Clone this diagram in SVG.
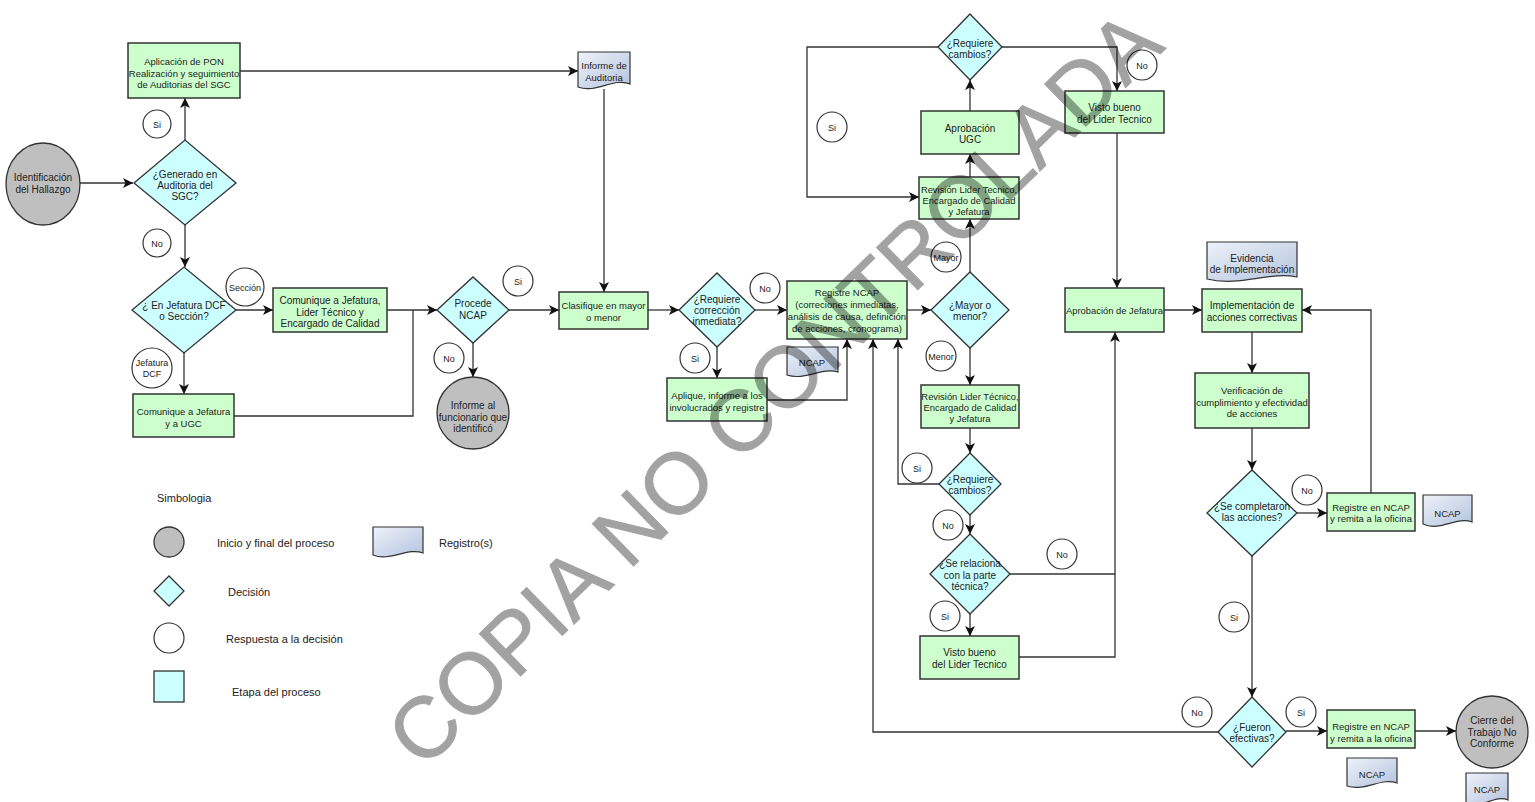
<svg xmlns="http://www.w3.org/2000/svg" width="1535" height="802" viewBox="0 0 1535 802">
<style>
.box{fill:#ccffcc;stroke:#333;stroke-width:1.5}
.dia{fill:#ccffff;stroke:#333;stroke-width:1.3}
.term{fill:#bfbfbf;stroke:#333;stroke-width:1.3}
.ans{fill:#fff;stroke:#333;stroke-width:1.2}
.doc{fill:url(#docg);stroke:#333;stroke-width:1.2}
text{font-family:"Liberation Sans",Arial,sans-serif;fill:#222}
.t{font-size:10px;text-anchor:middle}
.s{font-size:9.5px;text-anchor:middle}
.n{font-size:9.4px;text-anchor:middle}
.a{font-size:9px;text-anchor:middle}
.lg{font-size:11px}
#conn path{fill:none;stroke:#333;stroke-width:1.3}
.arr{marker-end:url(#ah)}
.wm{font-size:86px;fill:#000;stroke:#000;stroke-width:1;opacity:0.36}
</style>
<defs>
<marker id="ah" viewBox="0 0 10 10" refX="10" refY="5" markerWidth="11" markerHeight="10" markerUnits="userSpaceOnUse" orient="auto">
<path d="M0,0 L10,5 L0,10 L2.5,5 Z" fill="#111"/>
</marker>
<linearGradient id="docg" x1="0" y1="0" x2="1" y2="1">
<stop offset="0" stop-color="#eef2fa"/>
<stop offset="1" stop-color="#b3c3de"/>
</linearGradient>
</defs>
<rect width="1535" height="802" fill="#fff"/>

<g id="conn">
<path class="arr" d="M80,183 H133"/>
<path class="arr" d="M185,140 V98"/>
<path class="arr" d="M240,71 H578"/>
<path class="arr" d="M185,225 V267"/>
<path class="arr" d="M236,310 H273"/>
<path class="arr" d="M184,353 V394"/>
<path class="arr" d="M387,310 H437"/>
<path d="M234,416 H413 V310"/>
<path class="arr" d="M509,310 H559"/>
<path class="arr" d="M473,343 V377"/>
<path class="arr" d="M604,89 V292"/>
<path class="arr" d="M648,310 H679"/>
<path class="arr" d="M755,310 H787"/>
<path class="arr" d="M717,347 V378"/>
<path class="arr" d="M767,400 H847 V339"/>
<path class="arr" d="M907,310 H931"/>
<path class="arr" d="M970,272 V219"/>
<path class="arr" d="M970,177 V154"/>
<path class="arr" d="M970,111 V80"/>
<path class="arr" d="M938,47 H807 V197 H919"/>
<path class="arr" d="M1002,47 H1117 V91"/>
<path class="arr" d="M1117,133 V288"/>
<path class="arr" d="M970,348 V385"/>
<path class="arr" d="M970,428 V453"/>
<path class="arr" d="M939,484 H898 V339"/>
<path class="arr" d="M970,515 V534"/>
<path d="M1010,574 H1115"/>
<path class="arr" d="M970,614 V636"/>
<path class="arr" d="M1019,657 H1115 V332"/>
<path class="arr" d="M1164,310 H1202"/>
<path class="arr" d="M1252,332 V373"/>
<path class="arr" d="M1252,428 V470"/>
<path class="arr" d="M1297,513 H1327"/>
<path class="arr" d="M1371,493 V310 H1302"/>
<path class="arr" d="M1252,556 V697"/>
<path class="arr" d="M1286,731 H1327"/>
<path class="arr" d="M1415,731 H1456"/>
<path class="arr" d="M1218,732 H873 V339"/>
</g>

<g id="n-identificacion"><ellipse class="term" cx="43" cy="184" rx="37" ry="41"/><text class="t" x="43" y="180.5">Identificación</text><text class="t" x="43" y="192.5">del Hallazgo</text></g>
<g id="n-generado"><polygon class="dia" points="134,183 185,140 236,183 185,225"/><text class="t" x="185" y="177.5">¿Generado en</text><text class="t" x="185" y="188.5">Auditoria del</text><text class="t" x="185" y="199.5">SGC?</text></g>
<g id="n-aplicacion"><rect class="box" x="128" y="43" width="112" height="55"/><text class="s" x="184" y="64.5">Aplicación de PON</text><text class="s" x="184" y="76.5">Realización y seguimiento</text><text class="s" x="184" y="87.5">de Auditorias del SGC</text></g>
<g id="r-si1"><circle class="ans" cx="157" cy="124" r="14"/><text class="a" x="157" y="127.5">Si</text></g>
<g id="r-no1"><circle class="ans" cx="157" cy="243" r="14"/><text class="a" x="157" y="246.5">No</text></g>
<g id="n-informe-auditoria"><path class="doc" d="M578,52 H630 V84 C614,77 596,94 578,87 Z"/><text class="s" x="604" y="69">Informe de</text><text class="s" x="604" y="81">Auditoria</text></g>
<g id="n-jefatura-seccion"><polygon class="dia" points="132,310 184,267 236,310 184,353"/><text class="t" x="184" y="308.5">¿ En Jefatura DCF</text><text class="t" x="184" y="319.5">o Sección?</text></g>
<g id="r-seccion"><circle class="ans" cx="245" cy="287" r="19"/><text class="a" x="245" y="290.5">Sección</text></g>
<g id="n-comunique1"><rect class="box" x="273" y="288" width="114" height="44"/><text class="t" x="330" y="303.5">Comunique a Jefatura,</text><text class="t" x="330" y="315.5">Lider Técnico y</text><text class="t" x="330" y="326.5">Encargado de Calidad</text></g>
<g id="r-jefatura"><circle class="ans" cx="152" cy="368" r="20"/><text class="a" x="152" y="365.5">Jefatura</text><text class="a" x="152" y="376.5">DCF</text></g>
<g id="n-comunique2"><rect class="box" x="133" y="394" width="101" height="43"/><text class="s" x="183.5" y="414.5">Comunique a Jefatura</text><text class="s" x="183.5" y="426.5">y a UGC</text></g>
<g id="n-procede"><polygon class="dia" points="437,310 473,277 509,310 473,343"/><text class="t" x="473" y="306.5">Procede</text><text class="t" x="473" y="318.5">NCAP</text></g>
<g id="r-si2"><circle class="ans" cx="518" cy="281" r="15"/><text class="a" x="518" y="284.5">Si</text></g>
<g id="r-no2"><circle class="ans" cx="449" cy="358" r="15"/><text class="a" x="449" y="361.5">No</text></g>
<g id="n-informe-funcionario"><circle class="term" cx="473" cy="413" r="36"/><text class="t" x="473" y="408.5">Informe al</text><text class="t" x="473" y="420.5">funcionario que</text><text class="t" x="473" y="431.5">identificó</text></g>
<g id="n-clasifique"><rect class="box" x="559" y="292" width="89" height="37"/><text class="s" x="603.5" y="308.5">Clasifique en mayor</text><text class="s" x="603.5" y="320.5">o menor</text></g>
<g id="n-correccion"><polygon class="dia" points="679,310 717,273 755,310 717,347"/><text class="t" x="717" y="302.5">¿Requiere</text><text class="t" x="717" y="313.5">corrección</text><text class="t" x="717" y="324.5">inmediata?</text></g>
<g id="r-no3"><circle class="ans" cx="765" cy="288" r="15"/><text class="a" x="765" y="291.5">No</text></g>
<g id="r-si3"><circle class="ans" cx="695" cy="358" r="15"/><text class="a" x="695" y="361.5">Si</text></g>
<g id="n-aplique"><rect class="box" x="667" y="378" width="100" height="43"/><text class="s" x="717" y="398.5">Aplique, informe a los</text><text class="s" x="717" y="410.5">involucrados y registre</text></g>
<g id="n-ncap1"><path class="doc" d="M787,347 H838 V372 C822,367 805,381 787,375 Z"/><text class="s" x="812" y="366">NCAP</text></g>
<g id="n-registre"><rect class="box" x="787" y="281" width="120" height="58"/><text class="s" x="847" y="295.5">Registre NCAP</text><text class="s" x="847" y="307.5">(correciones inmediatas,</text><text class="s" x="847" y="319.5">análisis de causa, definición</text><text class="s" x="847" y="331.5">de acciones, cronograma)</text></g>
<g id="n-mayor-menor"><polygon class="dia" points="931,310 970,272 1009,310 970,348"/><text class="t" x="970" y="308.5">¿Mayor o</text><text class="t" x="970" y="319.5">menor?</text></g>
<g id="r-mayor"><circle class="ans" cx="946" cy="257" r="15"/><text class="a" x="946" y="260.5">Mayor</text></g>
<g id="r-menor"><circle class="ans" cx="941" cy="356" r="15"/><text class="a" x="941" y="359.5">Menor</text></g>
<g id="n-cambios1"><polygon class="dia" points="938,47 970,14 1002,47 970,80"/><text class="t" x="970" y="46.5">¿Requiere</text><text class="t" x="970" y="57.5">cambios?</text></g>
<g id="n-aprobacion-ugc"><rect class="box" x="921" y="111" width="98" height="43"/><text class="t" x="970" y="131.5">Aprobación</text><text class="t" x="970" y="142.5">UGC</text></g>
<g id="n-revision1"><rect class="box" x="919" y="177" width="100" height="42"/><text class="n" x="969" y="192.5">Revisión Lider Tecnico,</text><text class="n" x="969" y="203.5">Encargado de Calidad</text><text class="n" x="969" y="214.5">y Jefatura</text></g>
<g id="r-si4"><circle class="ans" cx="832" cy="127" r="15"/><text class="a" x="832" y="130.5">Si</text></g>
<g id="n-visto1"><rect class="box" x="1065" y="91" width="99" height="42"/><text class="t" x="1114.5" y="110.5">Visto bueno</text><text class="t" x="1114.5" y="122.5">del Lider Tecnico</text></g>
<g id="r-no4"><circle class="ans" cx="1142" cy="65" r="15"/><text class="a" x="1142" y="68.5">No</text></g>
<g id="n-revision2"><rect class="box" x="921" y="385" width="98" height="43"/><text class="n" x="970" y="399.5">Revisión Lider Técnico,</text><text class="n" x="970" y="410.5">Encargado de Calidad</text><text class="n" x="970" y="421.5">y Jefatura</text></g>
<g id="n-cambios2"><polygon class="dia" points="939,484 970,453 1001,484 970,515"/><text class="t" x="970" y="482.5">¿Requiere</text><text class="t" x="970" y="493.5">cambios?</text></g>
<g id="r-si5"><circle class="ans" cx="917" cy="468" r="15"/><text class="a" x="917" y="471.5">Si</text></g>
<g id="r-no5"><circle class="ans" cx="948" cy="525" r="15"/><text class="a" x="948" y="528.5">No</text></g>
<g id="n-relaciona"><polygon class="dia" points="930,574 970,534 1010,574 970,614"/><text class="t" x="970" y="566.5">¿Se relaciona</text><text class="t" x="970" y="578.5">con la parte</text><text class="t" x="970" y="589.5">técnica?</text></g>
<g id="r-no6"><circle class="ans" cx="1062" cy="554" r="15"/><text class="a" x="1062" y="557.5">No</text></g>
<g id="r-si6"><circle class="ans" cx="945" cy="616" r="15"/><text class="a" x="945" y="619.5">Si</text></g>
<g id="n-visto2"><rect class="box" x="920" y="636" width="99" height="43"/><text class="t" x="969.5" y="655.5">Visto bueno</text><text class="t" x="969.5" y="667.5">del Lider Tecnico</text></g>
<g id="n-aprobacion-jefatura"><rect class="box" x="1065" y="288" width="99" height="44"/><text class="n" x="1114.5" y="314">Aprobación de Jefatura</text></g>
<g id="n-evidencia"><path class="doc" d="M1207,242 H1297 V277 C1270,271 1240,287 1207,279 Z"/><text class="t" x="1252" y="261.5">Evidencia</text><text class="t" x="1252" y="272.5">de Implementación</text></g>
<g id="n-implementacion"><rect class="box" x="1202" y="289" width="100" height="43"/><text class="t" x="1252" y="308.5">Implementación de</text><text class="t" x="1252" y="320.5">acciones correctivas</text></g>
<g id="n-verificacion"><rect class="box" x="1195" y="373" width="114" height="55"/><text class="s" x="1252" y="393.5">Verificación de</text><text class="s" x="1252" y="405.5">cumplimiento y efectividad</text><text class="s" x="1252" y="416.5">de acciones</text></g>
<g id="n-completaron"><polygon class="dia" points="1207,513 1252,470 1297,513 1252,556"/><text class="t" x="1252" y="509.5">¿Se completaron</text><text class="t" x="1252" y="520.5">las acciones?</text></g>
<g id="r-no7"><circle class="ans" cx="1307" cy="490" r="15"/><text class="a" x="1307" y="493.5">No</text></g>
<g id="n-registre2"><rect class="box" x="1327" y="493" width="88" height="38"/><text class="s" x="1371" y="510.5">Registre en NCAP</text><text class="s" x="1371" y="522">y remita a la oficina</text></g>
<g id="n-ncap2"><path class="doc" d="M1423,495 H1472 V522 C1457,516 1440,532 1423,524 Z"/><text class="s" x="1447.5" y="516.5">NCAP</text></g>
<g id="r-si7"><circle class="ans" cx="1234" cy="617" r="15"/><text class="a" x="1234" y="620.5">Si</text></g>
<g id="n-fueron"><polygon class="dia" points="1218,732 1252,697 1286,732 1252,767"/><text class="t" x="1252" y="730.5">¿Fueron</text><text class="t" x="1252" y="741.5">efectivas?</text></g>
<g id="r-no8"><circle class="ans" cx="1197" cy="712" r="15"/><text class="a" x="1197" y="715.5">No</text></g>
<g id="r-si8"><circle class="ans" cx="1301" cy="712" r="15"/><text class="a" x="1301" y="715.5">Si</text></g>
<g id="n-registre3"><rect class="box" x="1327" y="710" width="88" height="38"/><text class="s" x="1371" y="729.5">Registre en NCAP</text><text class="s" x="1371" y="741.5">y remita a la oficina</text></g>
<g id="n-ncap3"><path class="doc" d="M1347,758 H1397 V783 C1382,777 1365,792 1347,786 Z"/><text class="s" x="1372" y="777.5">NCAP</text></g>
<g id="n-cierre"><circle class="term" cx="1492" cy="732" r="36"/><text class="t" x="1492" y="723.5">Cierre del</text><text class="t" x="1492" y="735.5">Trabajo No</text><text class="t" x="1492" y="746.5">Conforme</text></g>
<g id="n-ncap4"><path class="doc" d="M1466,773 H1508 V800 C1495,794 1481,810 1466,803 Z"/><text class="s" x="1487" y="792.5">NCAP</text></g>

<g id="legend">
<text class="lg" x="157" y="502">Simbologia</text>
<circle class="term" cx="169" cy="542" r="15"/>
<text class="lg" x="217" y="547">Inicio y final del proceso</text>
<path class="doc" d="M373,527 H423 V553 C408,547 390,562 373,555 Z"/>
<text class="lg" x="439" y="547">Registro(s)</text>
<polygon class="dia" points="154,591 169,576 184,591 169,606"/>
<text class="lg" x="228" y="596">Decisión</text>
<circle class="ans" cx="169" cy="638" r="15"/>
<text class="lg" x="226" y="643">Respuesta a la decisión</text>
<rect class="dia" x="154" y="671" width="30" height="31"/>
<text class="lg" x="232" y="696">Etapa del proceso</text>
</g>

<text class="wm" transform="translate(423,771) rotate(-44.2)">COPIA NO CONTROLADA</text>
</svg>
